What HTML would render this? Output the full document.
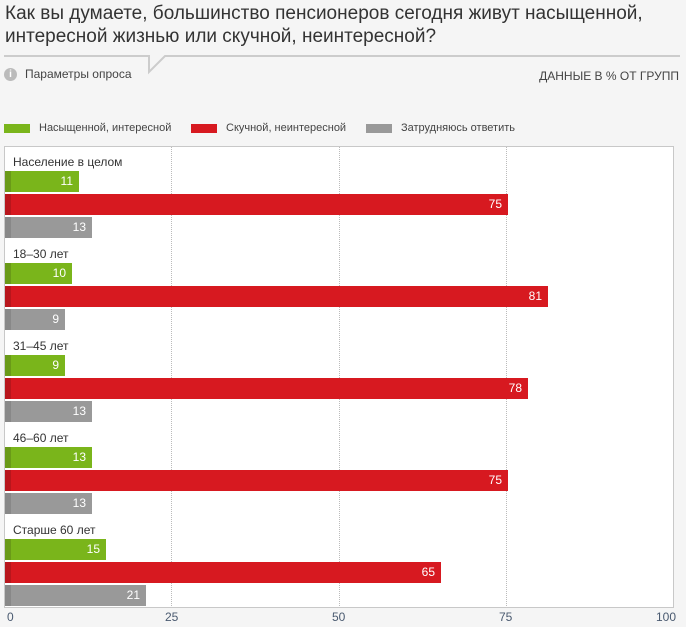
<!DOCTYPE html>
<html><head><meta charset="utf-8"><style>
body{margin:0;width:686px;height:627px;background:#f5f5f5;font-family:"Liberation Sans",sans-serif;position:relative;overflow:hidden;color:#333}
.a{position:absolute}
.t{left:5px;top:2px;font-size:19px;line-height:23px;color:#333;white-space:nowrap}
.lg{font-size:11px;color:#444;top:122px}
.sw{width:26px;height:9px;top:124px}
.plot{left:4px;top:146px;width:668px;height:460px;background:#fff;border:1px solid #c8c8c8}
.g{top:147px;height:459px;border-left:1px dotted #bbb;width:0}
.bar{height:21px;color:#fff;font-size:12px;line-height:21px;text-align:right;box-sizing:border-box;padding-right:6px}
.gr{background:#7ab51b;box-shadow:inset 6px 0 0 #6a9a18}
.rd{background:#d71920;box-shadow:inset 6px 0 0 #b8161c}
.gy{background:#999;box-shadow:inset 6px 0 0 #888}
.lb{font-size:12px;color:#333;left:13px}
.tk{top:610px;font-size:12px;color:#4a5a70}
</style></head><body>
<div class="a t">Как вы думаете, большинство пенсионеров сегодня живут насыщенной,<br>интересной жизнью или скучной, неинтересной?</div>
<svg class="a" style="left:0;top:50px" width="686" height="30"><polyline points="4,6 149,6 149,22 165,6 680,6" fill="none" stroke="#ccc" stroke-width="2"/></svg>
<div class="a" style="left:4px;top:68px;width:13px;height:13px;border-radius:50%;background:#bbb;color:#fff;font-size:10px;line-height:13px;text-align:center;font-weight:bold">i</div>
<div class="a" style="left:25px;top:67px;font-size:12px;color:#444">Параметры опроса</div>
<div class="a" style="right:7px;top:69px;font-size:12px;color:#444">ДАННЫЕ В % ОТ ГРУПП</div>
<div class="a sw" style="left:4px;background:#7ab51b"></div><div class="a lg" style="left:39px">Насыщенной, интересной</div>
<div class="a sw" style="left:191px;background:#d71920"></div><div class="a lg" style="left:226px">Скучной, неинтересной</div>
<div class="a sw" style="left:366px;background:#999"></div><div class="a lg" style="left:401px">Затрудняюсь ответить</div>
<div class="a plot"></div>
<div class="a g" style="left:171px"></div><div class="a g" style="left:339px"></div><div class="a g" style="left:506px"></div>

<div class="a lb" style="top:155px">Население в целом</div>
<div class="a bar gr" style="left:5px;top:171px;width:74px">11</div>
<div class="a bar rd" style="left:5px;top:194px;width:503px">75</div>
<div class="a bar gy" style="left:5px;top:217px;width:87px">13</div>

<div class="a lb" style="top:247px">18–30 лет</div>
<div class="a bar gr" style="left:5px;top:263px;width:67px">10</div>
<div class="a bar rd" style="left:5px;top:286px;width:543px">81</div>
<div class="a bar gy" style="left:5px;top:309px;width:60px">9</div>

<div class="a lb" style="top:339px">31–45 лет</div>
<div class="a bar gr" style="left:5px;top:355px;width:60px">9</div>
<div class="a bar rd" style="left:5px;top:378px;width:523px">78</div>
<div class="a bar gy" style="left:5px;top:401px;width:87px">13</div>

<div class="a lb" style="top:431px">46–60 лет</div>
<div class="a bar gr" style="left:5px;top:447px;width:87px">13</div>
<div class="a bar rd" style="left:5px;top:470px;width:503px">75</div>
<div class="a bar gy" style="left:5px;top:493px;width:87px">13</div>

<div class="a lb" style="top:523px">Старше 60 лет</div>
<div class="a bar gr" style="left:5px;top:539px;width:101px">15</div>
<div class="a bar rd" style="left:5px;top:562px;width:436px">65</div>
<div class="a bar gy" style="left:5px;top:585px;width:141px">21</div>

<div class="a tk" style="left:7px">0</div>
<div class="a tk" style="left:165px">25</div>
<div class="a tk" style="left:332px">50</div>
<div class="a tk" style="left:499px">75</div>
<div class="a tk" style="left:656px">100</div>
</body></html>
